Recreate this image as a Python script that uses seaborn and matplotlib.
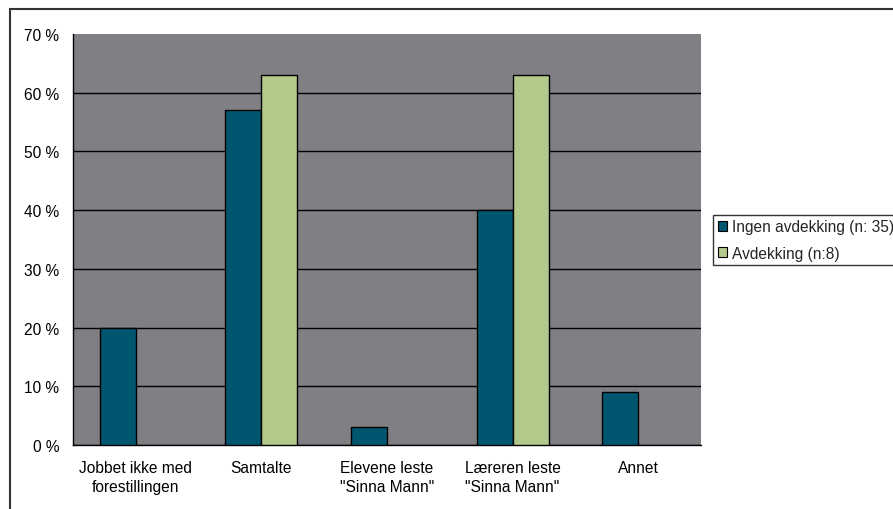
import matplotlib
matplotlib.use("Agg")
import matplotlib.pyplot as plt
from matplotlib.patches import Rectangle, Patch
from matplotlib.ticker import FixedLocator, FuncFormatter
import seaborn as sns
import pandas as pd

categories = [
    "Jobbet ikke med\nforestillingen",
    "Samtalte",
    "Elevene leste\n\"Sinna Mann\"",
    "Læreren leste\n\"Sinna Mann\"",
    "Annet",
]
series_names = ["Ingen avdekking (n: 35)", "Avdekking (n:8)"]
ingen_avdekking = [20, 57, 3, 40, 9]
avdekking = [0, 63, 0, 63, 0]
y_ticks = [0, 10, 20, 30, 40, 50, 60, 70]

colors = ["#00566f", "#b3c88b"]
plot_bg = "#807f84"
font_size = 11.2

rows = []
for cat, a, b in zip(categories, ingen_avdekking, avdekking):
    rows.append({"Kategori": cat, "Gruppe": series_names[0], "Andel": a})
    rows.append({"Kategori": cat, "Gruppe": series_names[1], "Andel": b})
df = pd.DataFrame(rows)

sns.set_theme(style="white")
plt.rcParams["font.family"] = ["Liberation Sans", "DejaVu Sans"]

fig = plt.figure(figsize=(8.93, 5.10), dpi=100)
ax = fig.add_axes([73 / 893, 1 - 446 / 510, 628 / 893, 411 / 510])
ax.set_facecolor(plot_bg)

sns.barplot(
    data=df, x="Kategori", y="Andel", hue="Gruppe",
    order=categories, hue_order=series_names,
    palette=colors, saturation=1, width=0.573, edgecolor="black", linewidth=1.0,
    errorbar=None, ax=ax, zorder=3, legend=False,
)

# hide zero-height bars
for p in ax.patches:
    if p.get_height() == 0:
        p.set_visible(False)

ax.set_ylim(0, 70)
ax.set_xlim(-0.5, len(categories) - 0.5)
ax.yaxis.set_major_locator(FixedLocator(y_ticks))
ax.yaxis.set_major_formatter(FuncFormatter(lambda v, _: f"{int(v)} %"))
ax.grid(axis="y", color="black", linewidth=1.0, zorder=1)
ax.set_axisbelow(True)
ax.get_ygridlines()[-1].set_visible(False)

ax.set_xlabel("")
ax.set_ylabel("")
ax.set_xticks(range(len(categories)))
ax.set_xticklabels(categories, fontsize=font_size, color="black", linespacing=1.3)
ax.set_xticks([i - 0.5 for i in range(len(categories) + 1)], minor=True)
ax.tick_params(axis="x", which="major", length=0, pad=11)
ax.tick_params(axis="x", which="minor", length=5, width=1, color="black", direction="out")
ax.tick_params(axis="y", length=5, width=1, color="black", direction="out",
               labelsize=font_size, labelcolor="black", pad=5)
for side in ["top", "right"]:
    ax.spines[side].set_visible(False)
for side in ["left", "bottom"]:
    ax.spines[side].set_color("black")
    ax.spines[side].set_linewidth(1.0)

handles = [Patch(facecolor=c, edgecolor="black", linewidth=0.8) for c in colors]
leg = fig.legend(
    handles, series_names, loc="center left",
    bbox_to_anchor=(713 / 893, 1 - 241 / 510),
    fontsize=font_size, frameon=True, fancybox=False, handlelength=0.6,
    handleheight=0.6, handletextpad=0.35, borderpad=0.3, labelspacing=0.72,
    borderaxespad=0,
)
leg.get_frame().set_edgecolor("black")
leg.get_frame().set_linewidth(1.0)

fig.patches.append(Rectangle(
    (10 / 893, -0.05), 1.1, 1 - 10 / 510 + 0.05,
    transform=fig.transFigure, fill=False,
    edgecolor="#333333", linewidth=1.5, clip_on=False,
))

fig.savefig("out.png", dpi=100, facecolor="white")
